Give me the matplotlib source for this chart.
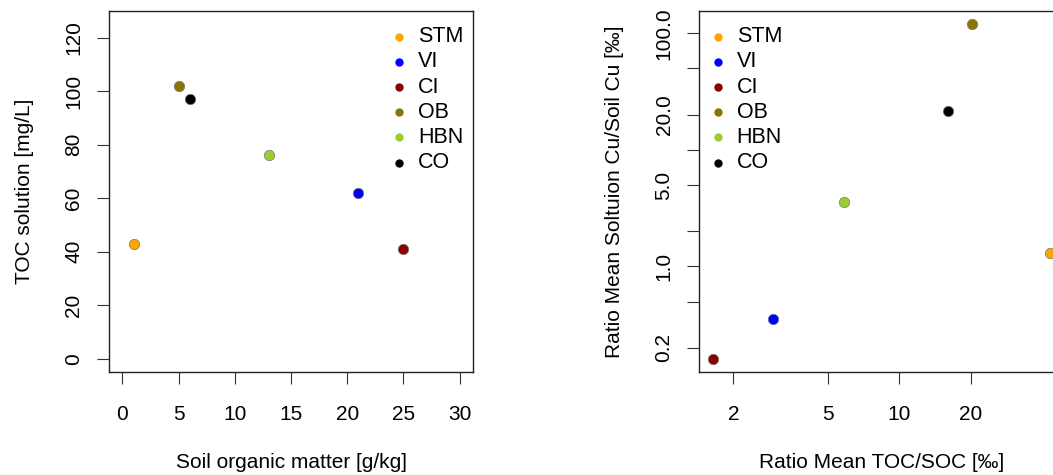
import matplotlib
matplotlib.use('Agg')
import numpy as np
import matplotlib.pyplot as plt

plt.rcParams['font.family'] = ['Liberation Sans', 'DejaVu Sans']
plt.rcParams['font.size'] = 15

sites = ['STM', 'VI', 'CI', 'OB', 'HBN', 'CO']
colors = ['orange', 'blue', 'darkred', '#8B7500', 'yellowgreen', 'black']

som = [1, 21, 25, 5, 13, 6]
toc = [43, 62, 41, 102, 76, 97]

ratio_toc = [43, 2.95, 1.64, 20.3, 5.86, 16.1]
ratio_cu = [1.30, 0.354, 0.162, 119.5, 3.57, 21.7]

fig = plt.figure(figsize=(10.53, 4.75), dpi=100)
W, H = 1053, 475
ax1 = fig.add_axes([109 / W, (475 - 372) / H, 364 / W, 361 / H])
ax2 = fig.add_axes([699.3 / W, (475 - 372) / H, 364 / W, 361 / H])


def r_style(ax):
    for s in ax.spines.values():
        s.set_linewidth(1.0)
        s.set_color('#222222')
    ax.tick_params(direction='out', length=8.5, width=0.8, color='#333333')
    ax.tick_params(axis='x', pad=15)
    ax.tick_params(axis='y', pad=10, labelrotation=90)
    for lbl in ax.get_yticklabels():
        lbl.set_va('center')


def legend(ax, x_mark, x_text):
    y0, dy = 36.7, 25.2
    for i, (s, c) in enumerate(zip(sites, colors)):
        yy = 1 - (y0 + i * dy - 11) / 361
        ax.plot([x_mark], [yy], 'o', ms=6, color=c, mec='none',
                transform=ax.transAxes, clip_on=False)
        ax.text(x_text, yy, s, transform=ax.transAxes, va='center',
                ha='left', fontsize=15.5)


# left panel
for x, y, c in zip(som, toc, colors):
    ax1.plot(x, y, 'o', ms=7.5, color=c, mec='#777777', mew=0.5)
ax1.set_xlim(-1.2, 31.2)
ax1.set_ylim(-5, 130)
ax1.set_xticks([0, 5, 10, 15, 20, 25, 30])
ax1.set_yticks([0, 20, 40, 60, 80, 100, 120])
ax1.set_xlabel('Soil organic matter [g/kg]', labelpad=21.5)
ax1.set_ylabel('TOC solution [mg/L]', labelpad=22)
r_style(ax1)
legend(ax1, (399 - 109) / 364, (418 - 109) / 364)

# right panel
for x, y, c in zip(ratio_toc, ratio_cu, colors):
    ax2.plot(x, y, 'o', ms=7.5, color=c, mec='#777777', mew=0.5)
ax2.set_xscale('log')
ax2.set_yscale('log')
lx = np.log10(ratio_toc)
ly = np.log10(ratio_cu)
ex = 0.04 * (lx.max() - lx.min())
ey = 0.04 * (ly.max() - ly.min())
ax2.set_xlim(10 ** (lx.min() - ex), 10 ** (lx.max() + ex))
ax2.set_ylim(10 ** (ly.min() - ey), 10 ** (ly.max() + ey))
ax2.set_xticks([2, 5, 10, 20])
ax2.set_xticklabels(['2', '5', '10', '20'])
yt = [0.2, 0.5, 1, 2, 5, 10, 20, 50, 100]
ax2.set_yticks(yt)
ax2.set_yticklabels(['0.2', '', '1.0', '', '5.0', '', '20.0', '', '100.0'])
ax2.minorticks_off()
ax2.set_xlabel('Ratio Mean TOC/SOC [‰]', labelpad=21.5)
ax2.set_ylabel('Ratio Mean Soltuion Cu/Soil Cu [‰]', labelpad=22)
r_style(ax2)
legend(ax2, (718 - 699.3) / 364, (736.7 - 699.3) / 364)

fig.savefig('out.png', dpi=100)
